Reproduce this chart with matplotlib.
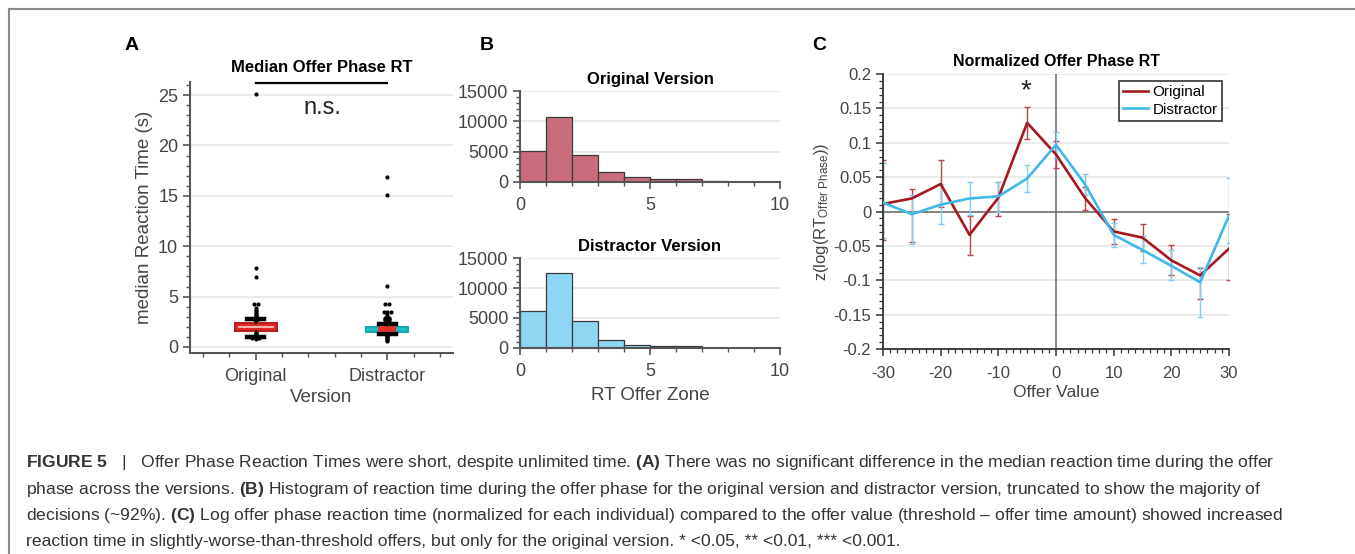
import numpy as np
import matplotlib
matplotlib.use("Agg")
import matplotlib.pyplot as plt
from matplotlib.lines import Line2D
from matplotlib.ticker import MultipleLocator, FormatStrFormatter

plt.rcParams['font.family'] = ['Liberation Sans', 'DejaVu Sans']
plt.rcParams['mathtext.fontset'] = 'custom'
plt.rcParams['mathtext.rm'] = 'Liberation Sans'
plt.rcParams['mathtext.it'] = 'Liberation Sans:italic'
plt.rcParams['mathtext.bf'] = 'Liberation Sans:bold'
plt.rcParams['axes.unicode_minus'] = False

# ---- data ----
# panel A: median reaction times
versions = ["Original", "Distractor"]
orig_stats = dict(med=1.98, q1=1.62, q3=2.38, whislo=1.0, whishi=2.8)
dist_stats = dict(med=1.78, q1=1.50, q3=1.98, whislo=1.28, whishi=2.28)
orig_pts = [25.1, 7.8, 6.9, 4.3, 4.3, 3.9, 3.7, 3.6, 3.4, 3.3, 3.2, 3.1, 3.0, 2.9,
            2.8, 2.8, 2.7, 2.6, 2.5, 2.4, 2.3, 2.2, 2.1, 2.0, 2.0, 1.9, 1.8, 1.7,
            1.6, 1.5, 1.4, 1.3, 1.2, 1.1, 1.0, 1.0, 0.9, 0.9, 0.9, 0.8]
dist_pts = [16.9, 15.1, 6.1, 4.3, 4.3, 3.5, 3.5, 3.5, 3.2, 3.0, 2.9, 2.9, 2.8, 2.8,
            2.7, 2.7, 2.6, 2.5, 2.4, 2.3, 2.2, 2.1, 2.0, 1.9, 1.8, 1.7, 1.6, 1.5,
            1.4, 1.3, 1.2, 1.1, 1.0, 0.9, 0.8, 0.7, 0.6]

# panel B: histogram counts per 1 s bin
bin_edges = [0, 1, 2, 3, 4, 5, 6, 7, 8, 9, 10]
orig_counts = [5050, 10650, 4450, 1600, 820, 550, 440, 120, 50, 30]
dist_counts = [6150, 12550, 4480, 1270, 500, 350, 300, 60, 30, 20]

# panel C: normalized RT by offer value
offer = [-30, -25, -20, -15, -10, -5, 0, 5, 10, 15, 20, 25, 30]
orig_z = [0.011, 0.019, 0.040, -0.034, 0.020, 0.129, 0.083, 0.020, -0.029, -0.038, -0.071, -0.093, -0.054]
orig_hi = [0.075, 0.033, 0.075, -0.006, 0.043, 0.152, 0.103, 0.035, -0.011, -0.018, -0.049, -0.082, -0.003]
orig_lo = [-0.042, -0.044, 0.006, -0.063, -0.006, 0.106, 0.063, 0.002, -0.047, -0.058, -0.092, -0.127, -0.100]
dist_z = [0.013, -0.004, 0.010, 0.019, 0.022, 0.048, 0.097, 0.040, -0.034, -0.056, -0.079, -0.103, -0.006]
dist_hi = [0.071, 0.024, 0.040, 0.043, 0.043, 0.068, 0.115, 0.055, -0.016, -0.035, -0.056, -0.080, 0.049]
dist_lo = [-0.039, -0.047, -0.018, -0.005, 0.000, 0.029, 0.078, 0.024, -0.052, -0.075, -0.100, -0.153, -0.046]

W, H = 1355, 554
fig = plt.figure(figsize=(W / 100, H / 100), dpi=100)


def box(l, t, r, b):
    return [l / W, 1 - b / H, (r - l) / W, (b - t) / H]


def swarm_offsets(vals, step=0.028):
    groups = {}
    for i, v in enumerate(vals):
        groups.setdefault(round(v, 1), []).append(i)
    offs = np.zeros(len(vals))
    for idx in groups.values():
        n = len(idx)
        for k, i in enumerate(idx):
            offs[i] = (k - (n - 1) / 2) * step
    return offs


tick_gray = "#444444"
spine_gray = "#555555"

# ---------------- panel A ----------------
axA = fig.add_axes(box(190, 82, 453, 353))
positions = [1, 2]
for p, pts in zip(positions, [orig_pts, dist_pts]):
    axA.scatter(p + swarm_offsets(pts), pts, s=9, color="black", zorder=2, linewidths=0)

for p, st, face, edge in [(1, orig_stats, "#dd2a2a", "#b82020"),
                          (2, dist_stats, "#22bcc6", "#1aa9b2")]:
    axA.bxp([dict(st, fliers=[])], positions=[p], widths=0.32, capwidths=0.13,
            patch_artist=True, showfliers=False,
            boxprops=dict(facecolor=face, edgecolor=edge, linewidth=1.5),
            whiskerprops=dict(color="black", linewidth=1.6),
            capprops=dict(color="black", linewidth=3.2),
            medianprops=dict(linewidth=0), manage_ticks=False, zorder=3)
axA.plot([1 - 0.13, 1 + 0.13], [orig_stats["med"]] * 2, color="#f4d0d0", lw=1.2, zorder=5)
axA.plot([2 - 0.07, 2 + 0.07], [dist_stats["med"]] * 2, color="#e8302a", lw=4, zorder=5,
         solid_capstyle="butt")

axA.set_xlim(0.5, 2.5)
axA.set_ylim(-0.6, 26.3)
axA.set_xticks(positions)
axA.set_xticklabels(versions)
axA.xaxis.set_minor_locator(MultipleLocator(0.2))
axA.yaxis.set_major_locator(MultipleLocator(5))
axA.yaxis.set_minor_locator(MultipleLocator(1))
axA.grid(axis="y", color="#e6e6e6", lw=1.2)
axA.set_axisbelow(True)
for s in ["top", "right"]:
    axA.spines[s].set_visible(False)
for s in ["left", "bottom"]:
    axA.spines[s].set_color(spine_gray)
    axA.spines[s].set_linewidth(1.5)
axA.tick_params(which="both", colors=spine_gray, labelcolor=tick_gray, labelsize=13)
axA.tick_params(which="major", length=5, width=1.2)
axA.tick_params(which="minor", length=3, width=1)
axA.tick_params(axis="x", pad=6)
axA.set_ylabel("median Reaction Time (s)", fontsize=13.5, color=tick_gray, labelpad=4)
axA.set_xlabel("Version", fontsize=13.5, color=tick_gray, labelpad=3)
axA.set_title("Median Offer Phase RT", fontsize=12, fontweight="bold", pad=7)
axA.plot([1, 2], [0.996, 0.996], transform=axA.get_xaxis_transform(), color="black",
         lw=1.6, clip_on=False)
axA.text(1.51, 0.905, "n.s.", transform=axA.get_xaxis_transform(), ha="center",
         va="center", fontsize=17, color="#222222")

# ---------------- panel B ----------------
def hist_panel(rect, counts, face, title, xlabel=None):
    ax = fig.add_axes(rect)
    ax.bar(bin_edges[:-1], counts, width=1, align="edge", color=face,
           edgecolor="#3a3a3a", linewidth=0.9)
    ax.set_xlim(0, 10)
    ax.set_ylim(0, 15000)
    ax.set_xticks([0, 5, 10])
    ax.xaxis.set_minor_locator(MultipleLocator(1))
    ax.yaxis.set_major_locator(MultipleLocator(5000))
    ax.yaxis.set_minor_locator(MultipleLocator(1000))
    ax.grid(axis="y", color="#e6e6e6", lw=1.2)
    ax.set_axisbelow(True)
    for s in ["top", "right"]:
        ax.spines[s].set_visible(False)
    for s in ["left", "bottom"]:
        ax.spines[s].set_color(spine_gray)
        ax.spines[s].set_linewidth(1.5)
    ax.tick_params(which="both", colors=spine_gray, labelcolor=tick_gray, labelsize=13)
    ax.tick_params(which="major", length=5, width=1.2)
    ax.tick_params(which="minor", length=3, width=1)
    ax.tick_params(axis="x", pad=6)
    ax.set_title(title, fontsize=12, fontweight="bold", pad=5)
    if xlabel:
        ax.set_xlabel(xlabel, fontsize=13.5, color=tick_gray, labelpad=5)
    return ax


hist_panel(box(520, 91, 780, 182), orig_counts, "#c96d7d", "Original Version")
hist_panel(box(520, 258, 780, 348), dist_counts, "#8fd6f3", "Distractor Version",
           "RT Offer Zone")

# ---------------- panel C ----------------
axC = fig.add_axes(box(883, 74, 1229, 349))
red = "#a5191f"
blue = "#3fb8ea"
axC.axhline(0, color="#666666", lw=1.1, zorder=1)
axC.axvline(0, color="#666666", lw=1.1, zorder=1)
for z, lo, hi, col, lab, ecol in [(orig_z, orig_lo, orig_hi, red, "Original", "#b8434a"),
                                  (dist_z, dist_lo, dist_hi, blue, "Distractor", "#7fcdf0")]:
    z = np.array(z)
    yerr = [z - np.array(lo), np.array(hi) - z]
    axC.errorbar(offer, z, yerr=yerr, fmt="none", ecolor=ecol, elinewidth=1,
                 capsize=2.5, capthick=1, zorder=2)
    axC.plot(offer, z, color=col, lw=1.9, label=lab, zorder=3)
axC.set_xlim(-30, 30)
axC.set_ylim(-0.2, 0.2)
axC.set_xticks(range(-30, 31, 10))
axC.xaxis.set_minor_locator(MultipleLocator(1.25))
axC.yaxis.set_major_locator(MultipleLocator(0.05))
axC.yaxis.set_minor_locator(MultipleLocator(0.01))
axC.yaxis.set_major_formatter(FormatStrFormatter("%g"))
axC.grid(axis="y", color="#e6e6e6", lw=1.2)
axC.set_axisbelow(True)
for s in ["top", "right"]:
    axC.spines[s].set_visible(False)
for s in ["left", "bottom"]:
    axC.spines[s].set_color("#333333")
    axC.spines[s].set_linewidth(1.3)
axC.tick_params(which="both", colors="#333333", labelcolor=tick_gray, labelsize=12)
axC.tick_params(which="major", length=5, width=1.1)
axC.tick_params(which="minor", length=3, width=0.9)
axC.tick_params(axis="x", pad=7)
axC.set_xlabel("Offer Value", fontsize=12.5, color=tick_gray, labelpad=3)
axC.set_ylabel(r"z(log(RT$_{\mathrm{Offer\ Phase}}$))", fontsize=12, color=tick_gray, labelpad=2)
axC.set_title("Normalized Offer Phase RT", fontsize=11.5, fontweight="bold", pad=6)
axC.text(-5.3, 0.175, "*", ha="center", va="center", fontsize=20, color="#222222")
leg = axC.legend(loc="upper right", bbox_to_anchor=(0.98, 0.975), fontsize=11,
                 frameon=True, fancybox=False, handlelength=1.6, handletextpad=0.3,
                 borderpad=0.3, labelspacing=0.2, borderaxespad=0)
leg.get_frame().set_edgecolor("black")
leg.get_frame().set_linewidth(1.2)

# panel letters
for x, label in [(125, "A"), (480, "B"), (812, "C")]:
    fig.text(x / W, 1 - 46 / H, label, fontsize=14, fontweight="bold", va="center")

# frame around the figure
fig.add_artist(Line2D([9 / W, 1], [1 - 9 / H, 1 - 9 / H], color="#8a8a8a", lw=1.5))
fig.add_artist(Line2D([9 / W, 9 / W], [0, 1 - 9 / H], color="#8a8a8a", lw=1.5))

# caption
caption = [
    r"$\mathbf{FIGURE\ 5}$   |   Offer Phase Reaction Times were short, despite unlimited time. "
    r"$\mathbf{(A)}$ There was no significant difference in the median reaction time during the offer",
    r"phase across the versions. $\mathbf{(B)}$ Histogram of reaction time during the offer phase "
    r"for the original version and distractor version, truncated to show the majority of",
    r"decisions (~92%). $\mathbf{(C)}$ Log offer phase reaction time (normalized for each individual) "
    r"compared to the offer value (threshold – offer time amount) showed increased",
    r"reaction time in slightly-worse-than-threshold offers, but only for the original version. "
    r"* <0.05, ** <0.01, *** <0.001.",
]
for i, line in enumerate(caption):
    fig.text(26 / W, 1 - (463 + 26.3 * i) / H, line, fontsize=12.6, color="#333333",
             va="center", ha="left")

fig.savefig("out.png", dpi=100)
